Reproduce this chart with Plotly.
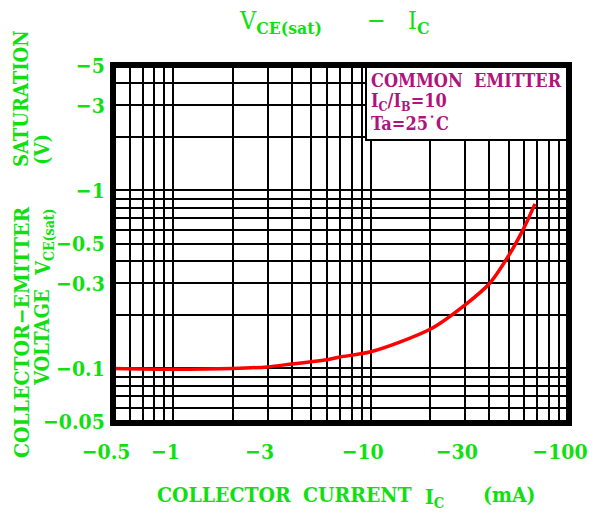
import plotly.graph_objects as go

# Data (magnitudes; labels show negative values)
ic_ma = [0.5, 1, 2, 3, 4, 5, 6, 7, 10, 20, 30, 40, 50, 60, 68]
vce_sat = [0.1, 0.099, 0.1, 0.102, 0.106, 0.109, 0.112, 0.116, 0.124, 0.166, 0.227, 0.30, 0.43, 0.62, 0.84]

x_tickvals = [0.5, 1, 3, 10, 30, 100]
x_ticktext = ["\u22120.5", "\u22121", "\u22123", "\u221210", "\u221230", "\u2212100"]
y_tickvals = [0.05, 0.1, 0.3, 0.5, 1, 3, 5]
y_ticktext = ["\u22120.05", "\u22120.1", "\u22120.3", "\u22120.5", "\u22121", "\u22123", "\u22125"]

GREEN = "#10e010"
MAG = "#b0147c"
FONT = "DejaVu Serif Condensed, DejaVu Serif, serif"

W, H = 604, 515
L, R, T, B = 114, 36, 66, 93
PW, PH = W - L - R, H - T - B

def px(xp):
    return (xp - L) / PW

def py(yp):
    return (H - B - yp) / PH

fig = go.Figure()
fig.add_trace(go.Scatter(
    x=ic_ma, y=vce_sat, mode="lines",
    line=dict(color="#ff0000", width=3.5, shape="spline", smoothing=0.8),
    showlegend=False, hoverinfo="skip",
))

grid = dict(showgrid=True, gridcolor="#000000", gridwidth=2)
fig.update_xaxes(
    type="log", range=[-0.30103, 2],
    tickmode="array", tickvals=x_tickvals, ticktext=x_ticktext,
    tickangle=0,
    tickfont=dict(family=FONT, size=21, color=GREEN, weight="bold"),
    ticklabelstandoff=8, ticklabelshift=-8,
    showline=True, linecolor="#000000", linewidth=4, mirror=True,
    minor=dict(dtick="D1", showgrid=True, gridcolor="#000000", gridwidth=2),
    zeroline=False, **grid,
)
fig.update_yaxes(
    type="log", range=[-1.30103, 0.69897],
    tickmode="array", tickvals=y_tickvals, ticktext=y_ticktext,
    tickfont=dict(family=FONT, size=21, color=GREEN, weight="bold"),
    ticklabelstandoff=1,
    showline=True, linecolor="#000000", linewidth=4, mirror=True,
    minor=dict(dtick="D1", showgrid=True, gridcolor="#000000", gridwidth=2),
    zeroline=False, **grid,
)

# White info box in upper-right corner
fig.add_shape(type="rect", xref="paper", yref="paper",
              x0=px(366), x1=1, y0=py(140), y1=1,
              fillcolor="white", line=dict(color="#000000", width=2), layer="above")
fig.add_shape(type="rect", xref="paper", yref="paper", x0=0, x1=1, y0=0, y1=1,
              line=dict(color="#000000", width=4), layer="above")

info = [
    ("COMMON\u00a0\u00a0EMITTER", 80),
    ("I<sub>C</sub>/I<sub>B</sub>=10", 102),
    ("Ta=25\u02d9C", 124),
]
for txt, yp in info:
    fig.add_annotation(text=txt, xref="paper", yref="paper", x=px(369), y=py(yp),
                       xanchor="left", yanchor="middle", showarrow=False,
                       font=dict(family=FONT, size=18, color=MAG, weight="bold"))

# Title pieces
fig.add_annotation(text="V<sub><b>CE(sat)</b></sub>", xref="paper", yref="paper",
                   x=px(237), y=py(22), xanchor="left", yanchor="middle", showarrow=False,
                   font=dict(family=FONT, size=25, color=GREEN))
fig.add_annotation(text="\u2212", xref="paper", yref="paper",
                   x=px(376), y=py(20), xanchor="center", yanchor="middle", showarrow=False,
                   font=dict(family=FONT, size=25, color=GREEN))
fig.add_annotation(text="I<sub><b>C</b></sub>", xref="paper", yref="paper",
                   x=px(406), y=py(22), xanchor="left", yanchor="middle", showarrow=False,
                   font=dict(family=FONT, size=25, color=GREEN))

# X axis title pieces
xtitle = [
    ("COLLECTOR", 224, 495, 21),
    ("CURRENT", 357, 495, 21),
    ("I<sub>C</sub>", 434, 497, 21),
    ("(mA)", 509, 495, 21),
]
for txt, xp, yp, sz in xtitle:
    fig.add_annotation(text=txt, xref="paper", yref="paper", x=px(xp), y=py(yp),
                       xanchor="center", yanchor="middle", showarrow=False,
                       font=dict(family=FONT, size=sz, color=GREEN, weight="bold"))

# Y axis title pieces (rotated)
ytitle = [
    ("SATURATION", 21, 99, 20),
    ("COLLECTOR\u2212EMITTER", 21, 333, 21),
    ("(V)", 42, 150, 20),
    ("V<sub>CE(sat)</sub>", 44, 242, 20),
    ("VOLTAGE", 42, 338, 20),
]
for txt, xp, yp, sz in ytitle:
    fig.add_annotation(text=txt, xref="paper", yref="paper", x=px(xp), y=py(yp),
                       xanchor="center", yanchor="middle", showarrow=False, textangle=-90,
                       font=dict(family=FONT, size=sz, color=GREEN, weight="bold"))

fig.update_layout(
    width=W, height=H,
    margin=dict(l=L, r=R, t=T, b=B, pad=0),
    paper_bgcolor="white", plot_bgcolor="white",
    showlegend=False,
)

fig.write_html("out.html", config={"displayModeBar": False},
               post_script="document.body.style.margin='0px';")
